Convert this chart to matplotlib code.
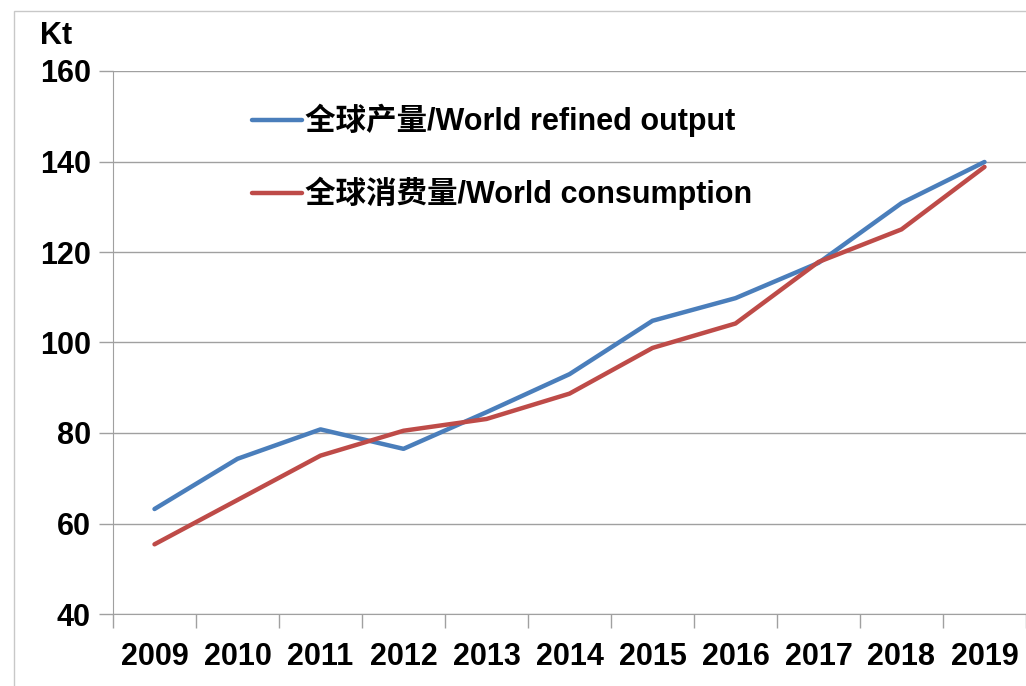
import matplotlib.pyplot as plt
from matplotlib.patches import Rectangle
import numpy as np

plt.rcParams["font.family"] = ["Liberation Sans", "Noto Sans CJK SC", "DejaVu Sans"]

years = ["2009", "2010", "2011", "2012", "2013", "2014", "2015", "2016", "2017", "2018", "2019"]
output = [63.2, 74.3, 80.8, 76.5, 84.6, 93.0, 104.8, 109.8, 117.6, 130.8, 139.9]
consumption = [55.4, 65.2, 75.0, 80.5, 83.1, 88.7, 98.8, 104.2, 117.8, 125.0, 138.8]
series_labels = ["全球产量/World refined output", "全球消费量/World consumption"]


def main():
    fig = plt.figure(figsize=(10.26, 6.86), dpi=100)
    fig.patches.append(Rectangle((14 / 1026, -0.05), 1.1, 1 - 11 / 686 + 0.05,
                                 transform=fig.transFigure, fill=False,
                                 edgecolor="#c8c8c8", linewidth=1))
    ax = fig.add_axes([113 / 1026, 72 / 686, 913 / 1026, 543 / 686])

    x = np.arange(len(years))
    ax.plot(x, output, color="#4a7ebb", linewidth=3.2, solid_capstyle="round",
            label=series_labels[0])
    ax.plot(x, consumption, color="#be4b48", linewidth=3.2, solid_capstyle="round",
            label=series_labels[1])

    ax.set_xlim(-0.5, len(years) - 0.5)
    ax.set_ylim(40, 160)
    ax.set_yticks(np.arange(40, 161, 20))
    ax.set_xticks(x)
    ax.set_xticklabels(years)
    ax.set_xticks(np.arange(-0.5, len(years), 1), minor=True)
    ax.tick_params(axis="x", which="major", length=0, pad=20)
    ax.tick_params(axis="x", which="minor", length=10, color="#a0a0a0", width=1)
    ax.tick_params(axis="y", length=10, color="#a0a0a0", width=1, pad=6)
    for lab in ax.get_xticklabels() + ax.get_yticklabels():
        lab.set_fontsize(22)
        lab.set_fontweight("bold")

    ax.grid(axis="y", color="#a0a0a0", linewidth=1)
    ax.set_axisbelow(True)
    for side in ["top", "right"]:
        ax.spines[side].set_visible(False)
    for side in ["left", "bottom"]:
        ax.spines[side].set_color("#a0a0a0")

    fig.text(40 / 1026, 1 - 36 / 686, "Kt", fontsize=22, fontweight="bold",
             va="center", ha="left")

    ax.legend(loc="upper left", bbox_to_anchor=(0.122, 0.99), frameon=False,
              handlelength=1.65, handletextpad=0.1, labelspacing=1.3,
              prop={"size": 22, "weight": "bold"})

    plt.savefig("out.png", dpi=100)


if __name__ == "__main__":
    main()
